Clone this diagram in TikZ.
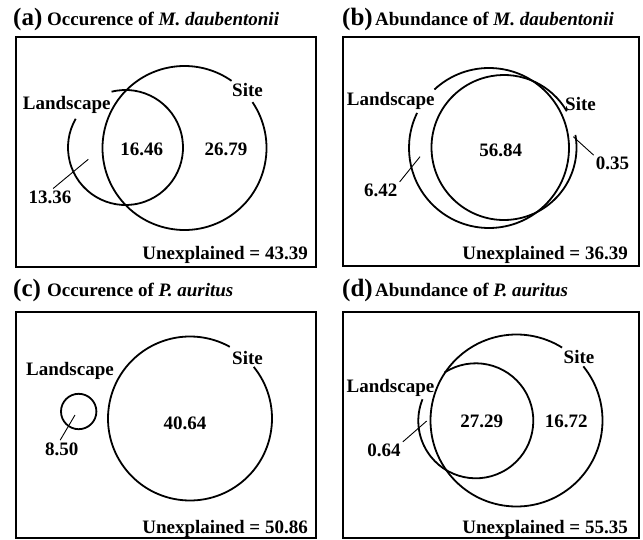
\documentclass[tikz,border=0pt]{standalone}
\usepackage{fontspec}
\setmainfont{Liberation Serif}
\begin{document}
\tikzset{
  lbl/.style={font=\bfseries\fontsize{19}{21}\selectfont, inner sep=2pt, anchor=base},
  unexp/.style={lbl, anchor=base east},
  ttl/.style={font=\bfseries\fontsize{19}{21}\selectfont, inner sep=0pt, anchor=base west},
  tag/.style={font=\bfseries\fontsize{25}{27}\selectfont, inner sep=0pt, anchor=base west},
  frame/.style={line width=1.8pt},
  ring/.style={line width=1.8pt},
  leader/.style={line width=0.9pt},
}
\begin{tikzpicture}[x=1pt,y=-1pt]
\useasboundingbox (0,0) rectangle (643,540);
% ---------------- panel (a)
\draw[frame] (16,37) rectangle (316,267);
\node[tag] (aTag) at (13,26) {(a)};
\node[ttl] (aTtl) at (47,26) {Occurence of \textit{M. daubentonii}};
\coordinate (aS) at (184.5,148);
\coordinate (aL) at (125.5,147.5);
\draw[ring] (aS) ++(-34:82) arc[start angle=-34, end angle=305, radius=82];
\draw[ring] (aL) ++(-104:57.5) arc[start angle=-104, end angle=210, radius=57.5];
\node[lbl] (aLand) at (66.7,109.5) {Landscape};
\node[lbl] (aSite) at (247.5,97) {Site};
\node[lbl] (aBoth) at (141.7,156) {16.46};
\node[lbl] (aSiteOnly) at (226,156) {26.79};
\node[lbl] (aLandOnly) at (50,203.3) {13.36};
\coordinate (aLandIn) at (88.3,159.3);
\draw[leader] (aLandOnly.70) -- (aLandIn);
\node[unexp] (aUn) at (310,260) {Unexplained = 43.39};
% ---------------- panel (b)
\draw[frame] (343,37) rectangle (639,266);
\node[tag] (bTag) at (342,26) {(b)};
\node[ttl] (bTtl) at (375,26) {Abundance of \textit{M. daubentonii}};
\coordinate (bL) at (489,148);
\coordinate (bS) at (504,147.5);
\draw[ring] (bL) ++(-133:80) arc[start angle=-133, end angle=206, radius=80];
\draw[ring] (bS) ++(-10:72.5) arc[start angle=-10, end angle=330, radius=72.5];
\node[lbl] (bLand) at (390.8,106) {Landscape};
\node[lbl] (bSite) at (580.5,111) {Site};
\node[lbl] (bBoth) at (500.8,156.7) {56.84};
\node[lbl] (bSiteOnly) at (612.5,170) {0.35};
\node[lbl] (bLandOnly) at (380.8,196.7) {6.42};
\coordinate (bLandIn) at (420,156.7);
\coordinate (bSiteIn) at (573.3,136.7);
\draw[leader] (bLandOnly.north east) -- (bLandIn);
\draw[leader] (bSiteOnly.north west) -- (bSiteIn);
\node[unexp] (bUn) at (630,260) {Unexplained = 36.39};
% ---------------- panel (c)
\draw[frame] (16,312) rectangle (316,538);
\node[tag] (cTag) at (13,297) {(c)};
\node[ttl] (cTtl) at (47,297) {Occurence of \textit{P. auritus}};
\coordinate (cS) at (190,418.5);
\coordinate (cL) at (78.7,411.5);
\draw[ring] (cS) ++(-39:82) arc[start angle=-39, end angle=299, radius=82];
\draw[ring] (cL) circle[radius=17.7];
\node[lbl] (cLand) at (70,375) {Landscape};
\node[lbl] (cSite) at (247.5,364.3) {Site};
\node[lbl] (cSiteOnly) at (185,429.3) {40.64};
\node[lbl] (cLandOnly) at (61.7,455) {8.50};
\coordinate (cLandIn) at (75,415);
\draw[leader] (cLandOnly.100) -- (cLandIn);
\node[unexp] (cUn) at (310,533) {Unexplained = 50.86};
% ---------------- panel (d)
\draw[frame] (343,312) rectangle (639,538);
\node[tag] (dTag) at (342,297) {(d)};
\node[ttl] (dTtl) at (375,297) {Abundance of \textit{P. auritus}};
\coordinate (dS) at (516.5,420.5);
\coordinate (dL) at (475.8,420.8);
\draw[ring] (dS) ++(-39:86) arc[start angle=-39, end angle=302, radius=86];
\draw[ring] (dL) ++(-123:57.5) arc[start angle=-123, end angle=202, radius=57.5];
\node[lbl] (dLand) at (390.5,392) {Landscape};
\node[lbl] (dSite) at (579,363.5) {Site};
\node[lbl] (dBoth) at (481.7,427.3) {27.29};
\node[lbl] (dSiteOnly) at (566.3,427.3) {16.72};
\node[lbl] (dLandOnly) at (384,456.7) {0.64};
\coordinate (dLandIn) at (426.7,421);
\draw[leader] (dLandOnly.north east) -- (dLandIn);
\node[unexp] (dUn) at (630,533) {Unexplained = 55.35};
\end{tikzpicture}
\end{document}
